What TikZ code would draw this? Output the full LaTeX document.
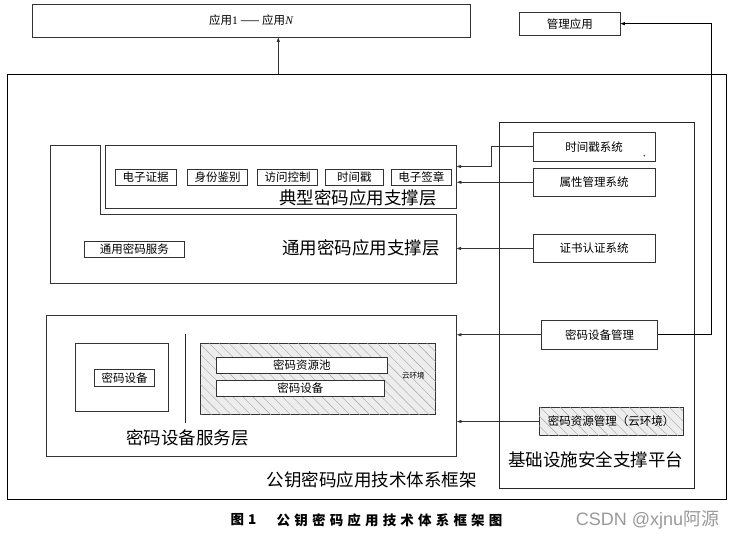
\documentclass[tikz,border=0pt]{standalone}
\usepackage{fontspec}
\setmainfont{Noto Sans CJK SC}
\newfontfamily\serifl{Liberation Serif}
\newfontfamily\wmfont{Liberation Sans}
\usetikzlibrary{arrows.meta,patterns.meta}
\begin{document}
\begin{tikzpicture}[x=1pt,y=-1pt,
  box/.style={draw=black!80, line width=0.7pt, inner sep=0pt, fill=white},
  sfont/.style={font=\fontsize{11.5}{13}\selectfont},
  sbox/.style={box, sfont},
  title/.style={font=\fontsize{17.5}{20}\selectfont, inner sep=0pt},
  conn/.style={draw=black!80, line width=0.7pt},
  arr/.style={conn, -{Triangle[length=4.5pt,width=3pt]}},
  hatch/.style={fill=black!7, postaction={pattern={Lines[angle=-45,distance=7pt,line width=0.4pt]}, pattern color=black!35}},
  capfont/.style={font=\bfseries\fontsize{13.5}{15}\selectfont},
]
\useasboundingbox (0,0) rectangle (734,540);

% outer frames
\node[draw=black, line width=1pt, minimum width=719pt, minimum height=424.8pt, inner sep=0pt] (frame) at (366.5,286.9) {};
\node[draw=black!85, line width=0.8pt, minimum width=195pt, minimum height=365.5pt, inner sep=0pt] (plat) at (596.5,305.25) {};

% top
\node[box, minimum width=438pt, minimum height=33pt, font=\fontsize{11.5}{13}\selectfont] (apps) at (251,20.5) {应用{\serifl 1} —— 应用{\serifl\itshape N}};
\node[box, minimum width=100.5pt, minimum height=22.7pt, sfont] (mgmt) at (569.75,23.65) {管理应用};

% generic layer polygon
\draw[conn] (50,145) -- (100.7,145) -- (100.7,214) -- (456.5,214) -- (456.5,283.3) -- (50,283.3) -- cycle;
\coordinate (genE) at (456.5,248.5);
\node[box, minimum width=100.5pt, minimum height=16pt, sfont] (gsvc) at (134.25,249) {通用密码服务};
\node[title] (tgen) at (361,248) {通用密码应用支撑层};

% typical layer
\node[box, minimum width=351pt, minimum height=63pt] (typ) at (281,176.5) {};
\node[sbox, minimum width=61pt, minimum height=16pt] (b1) at (145.5,177) {电子证据};
\node[sbox, minimum width=60pt, minimum height=16pt] (b2) at (217.5,177) {身份鉴别};
\node[sbox, minimum width=60pt, minimum height=16pt] (b3) at (287.5,177) {访问控制};
\node[sbox, minimum width=58.5pt, minimum height=16pt] (b4) at (354.25,177) {时间戳};
\node[sbox, minimum width=59.5pt, minimum height=16pt] (b5) at (421.25,177) {电子签章};
\node[title] (ttyp) at (358,197.5) {典型密码应用支撑层};
\coordinate (tssin) at (456.5,166.5);

% device service layer
\node[box, minimum width=410.5pt, minimum height=141.5pt] (dsvc) at (251.25,385.75) {};
\node[box, minimum width=93.5pt, minimum height=67.5pt] (local) at (121.75,377.25) {};
\node[sbox, minimum width=60pt, minimum height=16.5pt] (ldev) at (124.5,377.75) {密码设备};
\coordinate (divT) at (185,334);
\coordinate (divB) at (185,422.5);
\draw[draw=black!85, line width=0.8pt] (divT) -- (divB);
\node[box, hatch, minimum width=235pt, minimum height=71pt] (cloud) at (318,379) {};
\node[sbox, minimum width=171.5pt, minimum height=16pt] (pool) at (301.75,365.5) {密码资源池};
\node[sbox, minimum width=168.5pt, minimum height=15.5pt] (cdev) at (300.25,388.25) {密码设备};
\node[inner sep=0pt, font=\fontsize{7.5}{9}\selectfont] (cenv) at (413.3,375.7) {云环境};
\node[title] (tdev) at (187.5,437.5) {密码设备服务层};
\node[title] (tfw) at (371.7,480) {公钥密码应用技术体系框架};

% platform
\node[sbox, minimum width=122pt, minimum height=28.5pt] (tss) at (594,146.75) {时间戳系统};
\fill[blue] (644.3,155.7) circle (0.8pt);
\node[sbox, minimum width=122pt, minimum height=28.5pt] (attr) at (594,182.25) {属性管理系统};
\node[sbox, minimum width=122pt, minimum height=28.5pt] (cert) at (594,248.5) {证书认证系统};
\node[sbox, minimum width=116pt, minimum height=28.5pt] (devm) at (599.5,334.75) {密码设备管理};
\node[box, hatch, sfont, minimum width=144pt, minimum height=28pt] (resm) at (611,421.5) {密码资源管理（云环境）};
\node[title] (tplat) at (595.5,460) {基础设施安全支撑平台};

% connectors
\coordinate (upx) at (278.3,0);
\draw[arr] (upx |- frame.north) -- (upx |- apps.south);
\coordinate (mgx) at (711.5,0);
\draw[arr, draw=black, line width=0.8pt] (devm.east) -| (mgx |- mgmt.east) -- (mgmt.east);
\draw[arr] (tss.west) -- ++(-41,0) |- (tssin);
\draw[arr] (attr.west) -- (attr.west -| typ.east);
\draw[arr] (cert.west) -- (genE);
\draw[arr] (devm.west) -- (devm.west -| dsvc.east);
\draw[arr] (resm.west) -- (resm.west -| dsvc.east);

% caption and watermark
\node[anchor=west, inner sep=0pt, capfont] (capno) at (230.5,520) {图\hspace{4pt}1};
\node[anchor=west, inner sep=0pt, capfont] (captitle) at (276.5,520) {\addfontfeatures{LetterSpace=31}公钥密码应用技术体系框架图};
\node[inner sep=0pt, text=black!40, font=\fontsize{18}{21}\selectfont] (wm) at (647.5,519.5) {{\wmfont CSDN @xjnu}阿源};
\end{tikzpicture}
\end{document}
